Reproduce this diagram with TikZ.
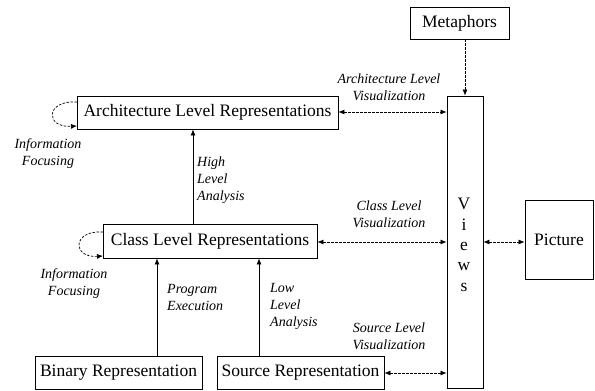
\documentclass[tikz,border=0pt]{standalone}
\usepackage{fontspec}
\setmainfont{Liberation Serif}
\usetikzlibrary{arrows.meta}
\begin{document}
\begin{tikzpicture}[x=1pt,y=-1pt,
  box/.style={draw,line width=0.8pt,inner sep=0pt,font=\fontsize{17.5}{20}\selectfont},
  lbl/.style={font=\fontsize{14}{17}\selectfont\itshape,inner sep=0pt},
  solidarrow/.style={line width=0.7pt,-{Latex[length=6pt,width=5pt]}},
  viz/.style={line width=0.7pt,dash pattern=on 2.5pt off 1.5pt,{Latex[length=6pt,width=5pt]}-{Latex[length=6pt,width=5pt]}},
  loop/.style={line width=0.7pt,dash pattern=on 2.5pt off 1.5pt,-{Latex[length=6pt,width=5pt]}}]
\useasboundingbox (0,0) rectangle (595,391);

% boxes
\node[box,minimum width=261pt,minimum height=33pt] (arch) at (207.5,112.5) {Architecture Level Representations};
\node[box,minimum width=214pt,minimum height=34pt] (cls) at (210,241) {Class Level Representations};
\node[box,minimum width=167pt,minimum height=33pt] (bin) at (118.5,372.5) {Binary Representation};
\node[box,minimum width=167pt,minimum height=33pt] (src) at (300.5,372.5) {Source Representation};
\node[box,minimum width=99pt,minimum height=32pt] (meta) at (459.5,23) {Metaphors};
\node[box,minimum width=36pt,minimum height=292pt] (views) at (465,242) {};
\node[box,minimum width=68pt,minimum height=79pt] (pic) at (559,239.5) {Picture};

% vertical lettering inside the views column
\foreach \ch/\yy in {V/204,i/225,e/246,w/267,s/287}
  \node[font=\fontsize{17.5}{20}\selectfont,inner sep=0pt] at (464,\yy) {\ch};

% analysis arrows
\coordinate (c1) at (193,0);
\draw[solidarrow] (cls.north -| c1) -- (arch.south -| c1);
\coordinate (c2) at (157,0);
\draw[solidarrow] (bin.north -| c2) -- (cls.south -| c2);
\coordinate (c3) at (259,0);
\draw[solidarrow] (src.north -| c3) -- (cls.south -| c3);

\node[lbl,align=left,anchor=west] (t1) at (197,180) {High\\Level\\Analysis};
\node[lbl,align=left,anchor=west] (t2) at (167,297) {Program\\Execution};
\node[lbl,align=left,anchor=west] (t3) at (270,306) {Low\\Level\\Analysis};

% metaphors feed the views
\draw[loop] (meta.south -| views) -- (views.north);

% visualization links
\coordinate (va) at (0,112);
\draw[viz] (arch.east |- va) -- (views.west |- va);
\coordinate (vc) at (0,242);
\draw[viz] (cls.east |- vc) -- (views.west |- vc);
\coordinate (vs) at (0,373);
\draw[viz] (src.east |- vs) -- (views.west |- vs);
\draw[viz] (views.east |- vc) -- (pic.west |- vc);

\node[lbl,align=center] (l1) at (389,87.5) {Architecture Level\\Visualization};
\node[lbl,align=center] (l2) at (389,214) {Class Level\\Visualization};
\node[lbl,align=center] (l3) at (389,336) {Source Level\\Visualization};

% information focusing loops
\coordinate (a1) at (77,102);
\coordinate (a2) at (77,126);
\draw[loop] (a1) .. controls (45,100) and (45,128) .. (a2);
\coordinate (b1) at (103,232);
\coordinate (b2) at (103,256);
\draw[loop] (b1) .. controls (72,230) and (72,258) .. (b2);

\node[lbl,align=center] (f1) at (48,154) {Information\\Focusing};
\node[lbl,align=center] (f2) at (74,284) {Information\\Focusing};
\end{tikzpicture}
\end{document}
